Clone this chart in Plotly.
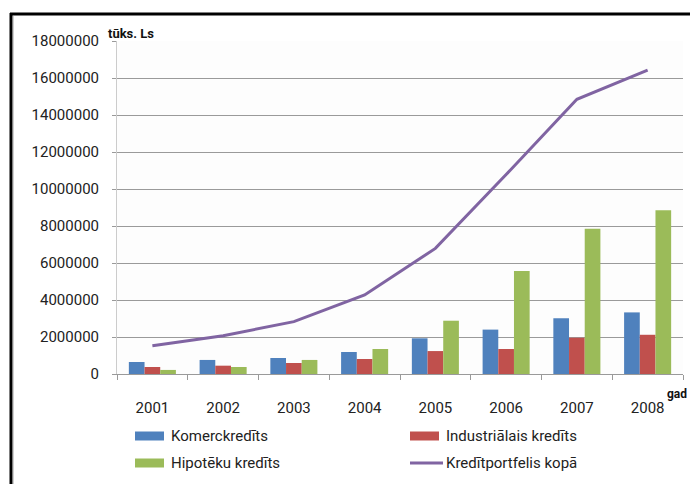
import plotly.graph_objects as go

# Loan portfolio by type, thousands of lats
years = ["2001", "2002", "2003", "2004", "2005", "2006", "2007", "2008"]
komerckredits = [650000, 760000, 865000, 1190000, 1930000, 2400000, 3010000, 3330000]
industrialais = [380000, 450000, 595000, 810000, 1240000, 1350000, 1960000, 2120000]
hipoteku = [220000, 380000, 760000, 1350000, 2880000, 5570000, 7850000, 8850000]
kopa = [1530000, 2070000, 2830000, 4270000, 6790000, 10780000, 14850000, 16420000]

y_ticks = [0, 2000000, 4000000, 6000000, 8000000, 10000000,
           12000000, 14000000, 16000000, 18000000]

names = ["Komerckredīts", "Industriālais kredīts", "Hipotēku kredīts",
         "Kredītportfelis kopā"]
colors = ["#4F81BD", "#C0504D", "#9BBB59", "#8064A2"]

W, H = 690, 484
L, R, T, B = 117, 7, 41, 110
PW, PH = W - L - R, H - T - B


def px(x):
    return (x - L) / PW


def py(y):
    return (H - B - y) / PH


FONT = "Roboto"

fig = go.Figure()
for vals, name, col in zip([komerckredits, industrialais, hipoteku], names[:3], colors[:3]):
    fig.add_trace(go.Bar(x=years, y=vals, name=name, marker_color=col,
                         marker_line_width=0, showlegend=False))
fig.add_trace(go.Scatter(x=years, y=kopa, name=names[3], mode="lines",
                         line=dict(color=colors[3], width=3), showlegend=False))

shapes = []
annotations = []

# Frame around the chart (left and top edges visible)
shapes.append(dict(type="line", xref="paper", yref="paper",
                   x0=px(11), x1=px(11), y0=py(13), y1=py(H + 5),
                   line=dict(color="black", width=3)))
shapes.append(dict(type="line", xref="paper", yref="paper",
                   x0=px(10), x1=px(W + 5), y0=py(14), y1=py(14),
                   line=dict(color="black", width=3)))
shapes.append(dict(type="line", xref="paper", yref="paper",
                   x0=px(13.5), x1=px(13.5), y0=py(16), y1=py(H + 5),
                   line=dict(color="#d0d0d0", width=1)))

# Legend drawn as swatches and labels in two rows
leg_pos = [(135, 436), (410, 436), (135, 463), (410, 463)]
for i, (name, col) in enumerate(zip(names, colors)):
    x0, yc = leg_pos[i]
    if i < 3:
        shapes.append(dict(type="rect", xref="paper", yref="paper",
                           x0=px(x0), x1=px(x0 + 29), y0=py(yc - 4.5), y1=py(yc + 4.5),
                           fillcolor=col, line=dict(width=0)))
    else:
        shapes.append(dict(type="line", xref="paper", yref="paper",
                           x0=px(x0), x1=px(x0 + 33), y0=py(yc), y1=py(yc),
                           line=dict(color=col, width=3)))
    annotations.append(dict(xref="paper", yref="paper", x=px(x0 + 34), y=py(yc),
                            xanchor="left", yanchor="middle", showarrow=False,
                            text=name, font=dict(family=FONT, size=15, color="#222")))

annotations.append(dict(xref="paper", yref="paper", x=px(106), y=py(33),
                        xanchor="left", yanchor="middle", showarrow=False,
                        text="<b>tūks. Ls</b>",
                        font=dict(family=FONT, size=13, color="#111")))
annotations.append(dict(xref="paper", yref="paper", x=px(689), y=py(394),
                        xanchor="right", yanchor="middle", showarrow=False,
                        text="<b>gad</b>",
                        font=dict(family=FONT, size=12, color="#111")))

fig.update_layout(
    width=W, height=H,
    margin=dict(l=L, r=R, t=T, b=B),
    paper_bgcolor="white", plot_bgcolor="#fdfdfd",
    barmode="group", bargap=0.335, bargroupgap=0,
    shapes=shapes, annotations=annotations,
    showlegend=False,
)
fig.update_xaxes(
    type="category", showgrid=False, showline=True, linecolor="#9a9a9a", linewidth=1,
    ticks="outside", tickson="boundaries", ticklen=5, tickcolor="#9a9a9a",
    ticklabelstandoff=20,
    tickfont=dict(family=FONT, size=15, color="#222"),
)
fig.update_yaxes(
    range=[0, 18000000], tickvals=y_ticks, ticktext=[str(v) for v in y_ticks],
    showgrid=True, gridcolor="#9a9a9a", gridwidth=1, zeroline=False,
    showline=True, linecolor="#cccccc", linewidth=1,
    ticks="outside", ticklen=4, tickcolor="#9a9a9a",
    ticklabelstandoff=10,
    tickfont=dict(family=FONT, size=15, color="#222"),
)

fig.write_html("out.html")
